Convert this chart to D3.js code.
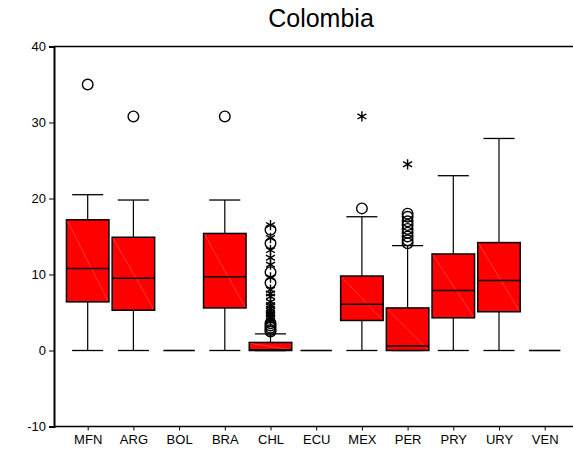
<!DOCTYPE html>
<html>
<head>
<meta charset="utf-8">
<script src="https://cdn.jsdelivr.net/npm/d3@7"></script>
<style>
  html, body { margin: 0; padding: 0; background: #fff; }
  svg { display: block; font-family: "Liberation Sans", Arial, sans-serif; }
</style>
</head>
<body>
<svg id="chart" width="573" height="456"></svg>
<script>
const title = "Colombia";
const categories = ["MFN", "ARG", "BOL", "BRA", "CHL", "ECU", "MEX", "PER", "PRY", "URY", "VEN"];
const whiskerLow  = [0, 0, 0, 0, 0, 0, 0, 0, 0, 0, 0];
const q1          = [6.4, 5.3, 0, 5.6, 0, 0, 3.95, 0, 4.3, 5.1, 0];
const medians     = [10.8, 9.5, 0, 9.7, 0.1, 0, 6.1, 0.6, 7.9, 9.2, 0];
const q3          = [17.2, 14.9, 0, 15.4, 1.06, 0, 9.8, 5.6, 12.7, 14.2, 0];
const whiskerHigh = [20.5, 19.8, 0, 19.8, 2.2, 0, 17.6, 13.8, 23.0, 27.9, 0];
const circleOutliers = [
  [35.0], [30.8], [], [30.8],
  [15.9, 14.1, 10.3, 8.9, 3.6, 3.3, 3.0, 2.7, 2.5],
  [], [18.7],
  [18.0, 17.6, 17.0, 16.5, 16.0, 15.5, 15.0, 14.5, 14.1],
  [], [], []
];
const starOutliers = [
  [], [], [], [],
  [16.5, 14.8, 13.2, 12.2, 11.3, 9.6, 8.0, 7.5, 7.1, 6.4, 6.0, 5.8, 5.5, 5.2, 4.9, 4.7, 4.4, 4.2, 3.9],
  [], [30.8], [24.5], [], [], []
];
const yTicks = [-10, 0, 10, 20, 30, 40];

const svg = d3.select("#chart");
const plotLeft = 54, plotTop = 46.5, plotBottom = 426.5, plotRight = 573;

const x = d3.scalePoint().domain(categories).range([87.7, 544.7]);
const y = d3.scaleLinear().domain([-10, 40]).range([plotBottom, plotTop]);
const step = x.step();
const boxW = step * 0.93;
const capW = step * 0.68;

// Title
svg.append("text")
  .attr("x", 321).attr("y", 27)
  .attr("text-anchor", "middle")
  .attr("font-size", 25)
  .attr("fill", "#000")
  .text(title);

// Frame lines
svg.append("line").attr("x1", plotLeft).attr("x2", plotRight).attr("y1", plotTop).attr("y2", plotTop)
  .attr("stroke", "#000").attr("stroke-width", 1.5);
svg.append("line").attr("x1", plotLeft).attr("x2", plotRight).attr("y1", plotBottom).attr("y2", plotBottom)
  .attr("stroke", "#000").attr("stroke-width", 1.5);

// Y axis
const yAxis = d3.axisLeft(y).tickValues(yTicks).tickSize(5).tickPadding(3).tickFormat(d => String(d));
const gy = svg.append("g").attr("transform", `translate(${plotLeft},0)`).call(yAxis);
gy.select(".domain").attr("stroke-width", 2);
gy.selectAll("text").attr("font-size", 13).attr("font-family", "Liberation Sans, Arial, sans-serif").attr("fill", "#000");

// X axis
const xAxis = d3.axisBottom(x).tickSize(4).tickPadding(4);
const gx = svg.append("g").attr("transform", `translate(0,${plotBottom})`).call(xAxis);
gx.select(".domain").remove();
gx.selectAll("text").attr("font-size", 13).attr("font-family", "Liberation Sans, Arial, sans-serif").attr("fill", "#000");

// Boxes
const data = categories.map((c, i) => ({
  c, lo: whiskerLow[i], q1: q1[i], med: medians[i], q3: q3[i], hi: whiskerHigh[i],
  circles: circleOutliers[i], stars: starOutliers[i]
}));

const g = svg.append("g");
data.forEach(d => {
  const cx = x(d.c);
  const gg = g.append("g");
  // whiskers
  gg.append("line").attr("x1", cx).attr("x2", cx).attr("y1", y(d.q3)).attr("y2", y(d.hi))
    .attr("stroke", "#000").attr("stroke-width", 1.2);
  gg.append("line").attr("x1", cx).attr("x2", cx).attr("y1", y(d.q1)).attr("y2", y(d.lo))
    .attr("stroke", "#000").attr("stroke-width", 1.2);
  gg.append("line").attr("x1", cx - capW / 2).attr("x2", cx + capW / 2).attr("y1", y(d.hi)).attr("y2", y(d.hi))
    .attr("stroke", "#000").attr("stroke-width", 1.3);
  gg.append("line").attr("x1", cx - capW / 2).attr("x2", cx + capW / 2).attr("y1", y(d.lo)).attr("y2", y(d.lo))
    .attr("stroke", "#000").attr("stroke-width", 1.3);
  // box
  gg.append("rect")
    .attr("x", cx - boxW / 2).attr("width", boxW)
    .attr("y", y(d.q3)).attr("height", Math.max(0, y(d.q1) - y(d.q3)))
    .attr("fill", "#ff0000").attr("stroke", "#000").attr("stroke-width", d.q3 === d.q1 ? 2 : 1.5);
  if (d.q3 > d.q1) {
    gg.append("line")
      .attr("x1", cx - boxW / 2 + 1).attr("y1", y(d.q3) + 1)
      .attr("x2", cx + boxW / 2 - 1).attr("y2", y(d.q1) - 1)
      .attr("stroke", "#ff6a6a").attr("stroke-width", 0.5);
    gg.append("line").attr("x1", cx - boxW / 2).attr("x2", cx + boxW / 2)
      .attr("y1", y(d.med)).attr("y2", y(d.med))
      .attr("stroke", "#000").attr("stroke-width", 1.5);
  }
  // outliers
  d.circles.forEach(v => {
    gg.append("circle").attr("cx", cx).attr("cy", y(v)).attr("r", 5.3)
      .attr("fill", "none").attr("stroke", "#000").attr("stroke-width", 1.4);
  });
  const star = d3.symbol().type(d3.symbolAsterisk).size(75);
  d.stars.forEach(v => {
    gg.append("path").attr("d", star()).attr("transform", `translate(${cx},${y(v)})`)
      .attr("fill", "none").attr("stroke", "#000").attr("stroke-width", 1.4);
  });
});
</script>
</body>
</html>
